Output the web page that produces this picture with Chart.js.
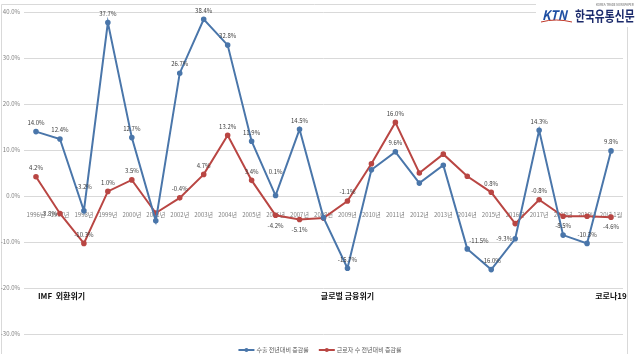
<!DOCTYPE html>
<html><head><meta charset="utf-8">
<script src="https://cdn.jsdelivr.net/npm/chart.js@4/dist/chart.umd.min.js"></script>
<style>html,body{margin:0;padding:0;background:#fff;}#wrap{width:640px;height:355px;}</style>
</head><body><div id="wrap"><canvas id="c" width="640" height="355"></canvas></div>
<script>
const years = ['1996년','1997년','1998년','1999년','2000년','2001년','2002년','2003년','2004년','2005년','2006년','2007년','2008년','2009년','2010년','2011년','2012년','2013년','2014년','2015년','2016년','2017년','2018년','2019년','20년 1월'];
const exportGrowth = [14.0, 12.4, -3.2, 37.7, 12.7, -5.4, 26.7, 38.4, 32.8, 11.9, 0.1, 14.5, -4.7, -15.7, 5.7, 9.6, 2.8, 6.7, -11.5, -16.0, -9.3, 14.3, -8.5, -10.3, 9.8];
const workerGrowth = [4.2, -3.8, -10.3, 1.0, 3.5, -3.7, -0.4, 4.7, 13.2, 3.4, -4.2, -5.1, -4.8, -1.1, 7.0, 16.0, 5.0, 9.1, 4.3, 0.8, -6.0, -0.8, -4.4, -4.4, -4.6];
const seriesNames = ['수출 전년대비 증감률', '근로자 수 전년대비 증감률'];
const yMin = -30, yMax = 40, yStep = 10;
// label placement codes: t above, T far above, b below, l left, r right, '' hidden
const exportLabelPos = ['t','t','T','t','t','','t','t','t','t','T','t','','t','','t','','','r','t','l','t','t','t','t'];
const workerLabelPos = ['t','l','t','t','t','','t','t','t','t','b','b','','t','','t','','','','t','','t','','','b'];
const events = ['IMF  외환위기', '글로벌 금융위기', '코로나19'];
const eventIndex = [0, 13, 24];
const eventValue = -21.7;

const BLUE = '#4A76AA', RED = '#B94643';
const FONT = "'Noto Sans CJK KR', 'Noto Sans', sans-serif";

function fmt(v){ return v.toFixed(1) + '%'; }

const extras = {
  id: 'extras',
  beforeDraw(chart){
    const ctx = chart.ctx;
    ctx.save();
    ctx.fillStyle = '#fff';
    ctx.fillRect(0,0,chart.width,chart.height);
    ctx.strokeStyle = '#d9d9d9';
    ctx.lineWidth = 1;
    ctx.beginPath();
    ctx.moveTo(1.5, 354); ctx.lineTo(1.5, 4.5); ctx.lineTo(627.5, 4.5); ctx.lineTo(627.5, 354);
    ctx.stroke();
    ctx.restore();
  },
  afterDatasetsDraw(chart){
    const ctx = chart.ctx;
    ctx.save();
    ctx.font = '6px ' + FONT;
    ctx.fillStyle = '#404040';
    const sets = [[exportGrowth, exportLabelPos],[workerGrowth, workerLabelPos]];
    sets.forEach((s, di) => {
      const meta = chart.getDatasetMeta(di);
      s[0].forEach((v, i) => {
        const code = s[1][i];
        if (!code) return;
        const p = meta.data[i];
        let x = p.x, y = p.y;
        ctx.textBaseline = 'middle';
        ctx.textAlign = 'center';
        if (code === 't') y -= 9;
        else if (code === 'T') y -= 24;
        else if (code === 'b') y += 10;
        else if (code === 'l') { ctx.textAlign = 'right'; x -= 3; }
        else if (code === 'r') { ctx.textAlign = 'left'; x += 2; y -= 8; }
        ctx.fillText(fmt(v), x, y);
      });
    });
    // event annotations
    ctx.font = 'bold 8px ' + FONT;
    ctx.fillStyle = '#111';
    ctx.textBaseline = 'middle';
    events.forEach((t, k) => {
      const x = chart.scales.x.getPixelForValue(eventIndex[k]);
      const y = chart.scales.y.getPixelForValue(eventValue);
      ctx.textAlign = k === 0 ? 'left' : 'center';
      ctx.fillText(t, k === 0 ? x + 2 : x, y);
    });
    // legend
    ctx.font = '6px ' + FONT;
    const colors = [BLUE, RED];
    const widths = seriesNames.map(n => ctx.measureText(n).width);
    const mark = 16, gap = 2, sep = 10;
    const total = widths.reduce((a,b)=>a+b,0) + 2*(mark+gap) + sep;
    let lx = chart.width/2 - total/2;
    const ly = 350;
    seriesNames.forEach((n, k) => {
      ctx.strokeStyle = colors[k]; ctx.fillStyle = colors[k];
      ctx.lineWidth = 2;
      ctx.beginPath(); ctx.moveTo(lx, ly); ctx.lineTo(lx+mark, ly); ctx.stroke();
      ctx.beginPath(); ctx.arc(lx+mark/2, ly, 2, 0, Math.PI*2); ctx.fill();
      ctx.fillStyle = '#595959';
      ctx.textAlign = 'left'; ctx.textBaseline = 'middle';
      ctx.fillText(n, lx+mark+gap, ly);
      lx += mark + gap + widths[k] + sep;
    });
    // logo
    ctx.fillStyle = '#fff';
    ctx.fillRect(536, 0, 104, 27);
    ctx.textAlign = 'left'; ctx.textBaseline = 'alphabetic';
    ctx.save();
    ctx.translate(542, 20);
    ctx.scale(0.95, 1);
    ctx.font = 'italic bold 13px ' + FONT;
    ctx.fillStyle = '#1f4fa3';
    ctx.fillText('KTN', 0, 0);
    ctx.restore();
    ctx.strokeStyle = '#c0392b'; ctx.lineWidth = 1;
    ctx.beginPath(); ctx.moveTo(541, 22); ctx.quadraticCurveTo(556, 18, 572, 22); ctx.stroke();
    ctx.save();
    ctx.translate(575, 21);
    ctx.scale(0.8, 1);
    ctx.font = 'bold 13.5px ' + FONT;
    ctx.fillStyle = '#1b2a6b';
    ctx.fillText('한국유통신문', 0, 0);
    ctx.restore();
    ctx.font = '3px ' + FONT;
    ctx.fillStyle = '#666';
    ctx.fillText('KOREA TRADE NEWSPAPER', 596, 6);
    ctx.restore();
  }
};

new Chart(document.getElementById('c'), {
  type: 'line',
  data: {
    labels: years,
    datasets: [
      { label: seriesNames[0], data: exportGrowth, borderColor: BLUE, backgroundColor: BLUE, borderWidth: 2, pointRadius: 1.8, pointHoverRadius: 1.8, tension: 0 },
      { label: seriesNames[1], data: workerGrowth, borderColor: RED, backgroundColor: RED, borderWidth: 2, pointRadius: 1.8, pointHoverRadius: 1.8, tension: 0 }
    ]
  },
  options: {
    responsive: false,
    animation: false,
    layout: { padding: { top: 12, right: 17, bottom: 21, left: 0 } },
    plugins: { legend: { display: false }, tooltip: { enabled: false } },
    scales: {
      x: {
        position: { y: 0 },
        offset: true,
        grid: { display: false },
        border: { display: false },
        ticks: { color: '#7f7f7f', font: { size: 6, family: FONT }, padding: 7, maxRotation: 0, autoSkip: false }
      },
      y: {
        min: yMin, max: yMax,
        afterFit(s){ s.width = 24; },
        grid: { color: '#d9d9d9', drawTicks: false },
        border: { display: false },
        ticks: { stepSize: yStep, color: '#7f7f7f', font: { size: 6, family: FONT }, padding: 4, callback: v => v.toFixed(1) + '%' }
      }
    }
  },
  plugins: [extras]
});
</script></body></html>
